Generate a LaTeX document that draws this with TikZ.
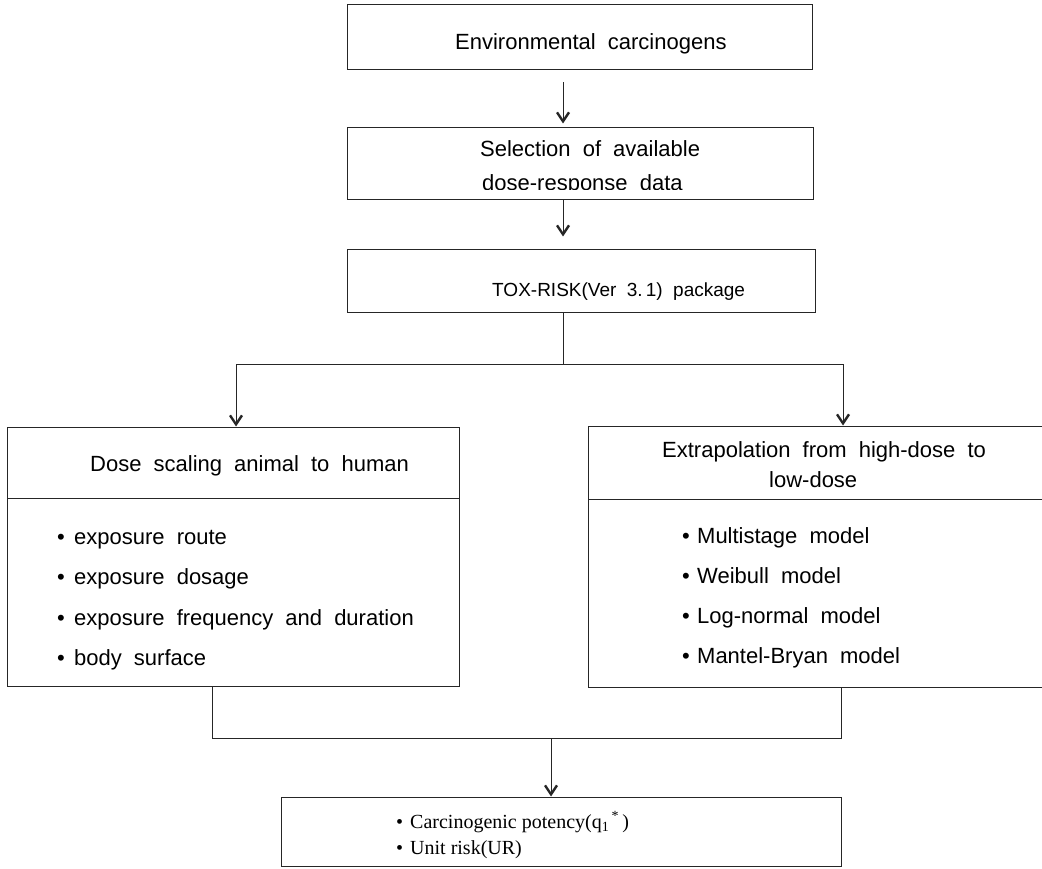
\documentclass[tikz,border=0pt]{standalone}
\usepackage{fontspec}
\setmainfont{Liberation Sans}
\newfontfamily\resfont{Liberation Serif}
\usetikzlibrary{arrows.meta}
\newcommand\widesp{\spaceskip=0.55em plus 0.1em minus 0.05em\relax}
\newcommand\bul[1]{\makebox[#1][l]{•}}
\begin{document}
\begin{tikzpicture}[x=1pt,y=-1pt,
  box/.style={draw=black!85,line width=1pt,rectangle,inner sep=0pt},
  txt/.style={anchor=base west,inner sep=0pt,font=\fontsize{22}{26}\selectfont\widesp},
  line/.style={draw=black!85,line width=1pt},
  arr/.style={line,-{Straight Barb[length=9pt,width=12pt,line width=2.4pt]}}]
\useasboundingbox (0,0) rectangle (1042,869);
\clip (0,0) rectangle (1042,869);

% top chain
\node[box,minimum width=465pt,minimum height=65pt] (env) at (579.5,37.5) {};
\node[txt] (envt) at (455,50) {Environmental carcinogens};
\node[box,minimum width=466pt,minimum height=72pt] (sel) at (580,164) {};
\node[txt] (selt1) at (480,157) {Selection of available};
\begin{scope}
\clip (0,120) rectangle (1042,189.5);
\node[txt] (selt2) at (482,191) {dose-response data};
\end{scope}
\node[box,minimum width=468pt,minimum height=62pt] (tox) at (581,281) {};
\node[txt,font=\fontsize{19}{24}\selectfont\widesp] (toxt) at (492,296) {TOX-RISK(Ver 3.\,1) package};

% left branch
\node[box,minimum width=452pt,minimum height=71pt] (lhead) at (233,462.5) {};
\node[txt] (lheadt) at (90,471) {Dose scaling animal to human};
\node[box,minimum width=452pt,minimum height=188pt] (lbody) at (233,592) {};
\node[txt] (l1) at (57,544) {\bul{17pt}exposure route};
\node[txt] (l2) at (57,584) {\bul{17pt}exposure dosage};
\node[txt] (l3) at (57,625) {\bul{17pt}exposure frequency and duration};
\node[txt] (l4) at (57,665) {\bul{17pt}body surface};

% right branch (its right side runs past the page edge)
\node[box,minimum width=460pt,minimum height=73pt] (rhead) at (818,462.5) {};
\node[txt] (rheadt1) at (662,457) {Extrapolation from high-dose to};
\node[txt] (rheadt2) at (769,487) {low-dose};
\node[box,minimum width=460pt,minimum height=188pt] (rbody) at (818,593) {};
\node[txt] (r1) at (682,543) {\bul{15pt}Multistage model};
\node[txt] (r2) at (682,583) {\bul{15pt}Weibull model};
\node[txt] (r3) at (682,623) {\bul{15pt}Log-normal model};
\node[txt] (r4) at (682,663) {\bul{15pt}Mantel-Bryan model};

% result
\node[box,minimum width=560pt,minimum height=69pt] (res) at (561,831.5) {};
\node[anchor=base west,inner sep=0pt,font=\resfont\fontsize{20}{26}\selectfont] (res1) at (396,828)
  {•\hspace{7pt}Carcinogenic potency(q\textsubscript{1}\textsuperscript{\,*}\,)};
\node[anchor=base west,inner sep=0pt,font=\resfont\fontsize{20}{26}\selectfont] (res2) at (396,854)
  {•\hspace{7pt}Unit risk(UR)};

% connectors
\coordinate (split) at (563,364);
\coordinate (join) at (551,738);
\draw[arr,shorten <=12pt,shorten >=4pt] (env.south -| split) -- (sel.north -| split);
\draw[arr,shorten >=13pt] (sel.south -| split) -- (tox.north -| split);
\draw[line] (tox.south -| split) -- (split);
\draw[arr] (split) -| ([xshift=3pt]lhead.north);
\draw[arr] (split) -| ([xshift=25pt]rhead.north);
\draw[line] ([xshift=-21pt]lbody.south) |- (join);
\draw[line] ([xshift=23pt]rbody.south) |- (join);
\draw[arr] (join) -- (res.north -| join);
\end{tikzpicture}
\end{document}
